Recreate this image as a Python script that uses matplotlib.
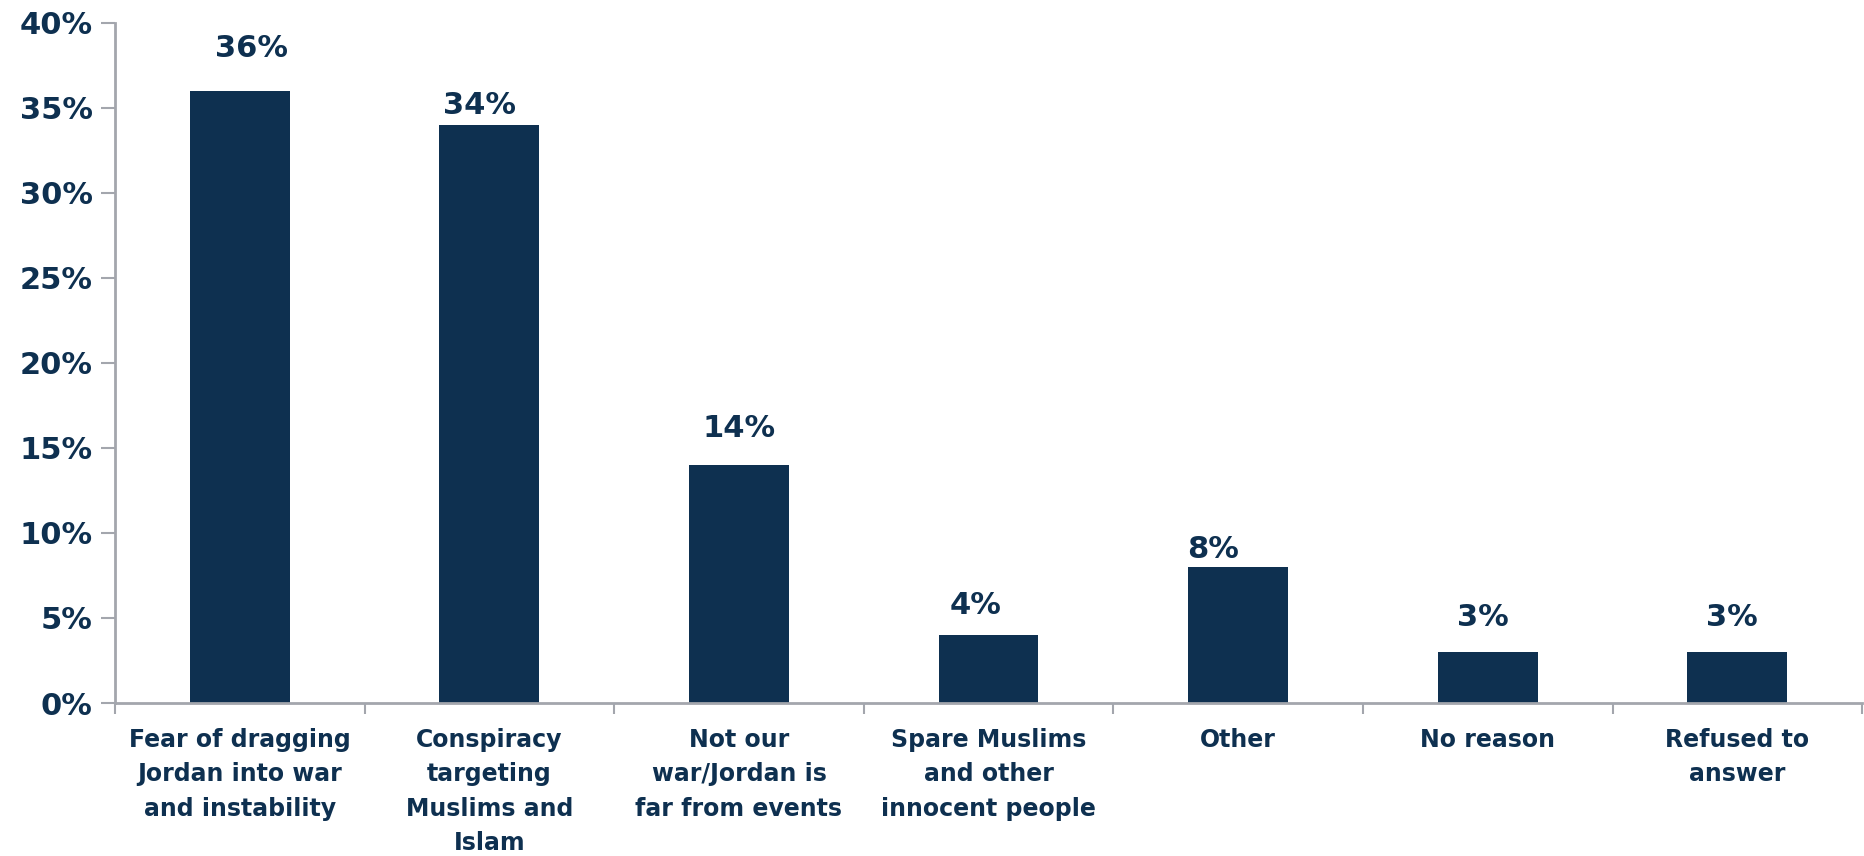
import matplotlib
matplotlib.use("Agg")
import matplotlib.pyplot as plt
import numpy as np

categories = [
    "Fear of dragging\nJordan into war\nand instability",
    "Conspiracy\ntargeting\nMuslims and\nIslam",
    "Not our\nwar/Jordan is\nfar from events",
    "Spare Muslims\nand other\ninnocent people",
    "Other",
    "No reason",
    "Refused to\nanswer",
]
values = [36, 34, 14, 4, 8, 3, 3]
yticks = [0, 5, 10, 15, 20, 25, 30, 35, 40]
ytick_labels = [f"{v}%" for v in yticks]

# label offsets (pixels) to mimic manual label placement
label_dx = [12, -10, 0, -13, -25, -5, -5]
label_dy = [42, 19, 36, 29, 17, 34, 34]

navy = "#0E3050"
grey = "#A3A6AD"

plt.rcParams['font.family'] = ['DejaVu Sans']
fig = plt.figure(figsize=(18.64, 8.56), dpi=100)
ax = fig.add_axes([0.0617, 0.1787, 0.9373, 0.795])

x = np.arange(len(categories))
ax.bar(x, values, width=0.40, color=navy, zorder=2)

ax.set_xlim(-0.5, len(categories) - 0.5)
ax.set_ylim(0, 40)
ax.set_yticks(yticks)
ax.set_yticklabels(ytick_labels, fontsize=22, fontweight='bold', color=navy)

ax.set_xticks(np.arange(len(categories) + 1) - 0.5)
ax.set_xticklabels([])
ax.set_xticks(x, minor=True)
ax.set_xticklabels(categories, minor=True, fontsize=17, fontweight='bold',
                   color=navy, linespacing=1.55, va='top')
ax.tick_params(axis='x', which='minor', length=0, pad=18)
ax.tick_params(axis='x', which='major', length=8, width=1.5, color=grey, direction='out')
ax.tick_params(axis='y', length=10, width=1.5, color=grey, pad=6)

for s in ['top', 'right']:
    ax.spines[s].set_visible(False)
for s in ['left', 'bottom']:
    ax.spines[s].set_color(grey)
    ax.spines[s].set_linewidth(2)

for xi, v, dx, dy in zip(x, values, label_dx, label_dy):
    ax.annotate(f"{v}%", xy=(xi, v), xytext=(dx * 0.72, dy * 0.72),
                textcoords='offset points', ha='center', va='center',
                fontsize=22, fontweight='bold', color=navy)

fig.savefig("out.png", dpi=100)
